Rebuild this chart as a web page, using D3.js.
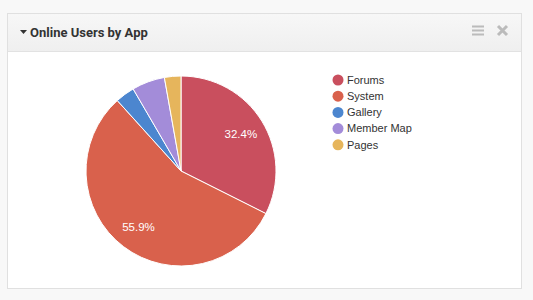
<!DOCTYPE html>
<html>
<head>
<meta charset="utf-8">
<script src="https://cdn.jsdelivr.net/npm/d3@7"></script>
<style>
  body { margin: 0; background: #f8f8f8; font-family: Roboto, "Open Sans", sans-serif; }
  svg { display: block; }
</style>
</head>
<body>
<svg id="chart"></svg>
<script>
const apps = ['Forums', 'System', 'Gallery', 'Member Map', 'Pages'];
const shares = [32.4, 55.9, 3.3, 5.6, 2.8];
const colors = ['#c94f5e', '#d9614c', '#4c86cf', '#a38cd9', '#e6b55c'];

const width = 533;
const height = 300;

const svg = d3.select('#chart')
    .attr('width', width)
    .attr('height', height);

// panel
svg.append('rect')
    .attr('x', 7.5).attr('y', 13.5)
    .attr('width', 514).attr('height', 275)
    .attr('fill', '#fff')
    .attr('stroke', '#e0e0e0');

const grad = svg.append('defs').append('linearGradient')
    .attr('id', 'hdr').attr('x1', 0).attr('y1', 0).attr('x2', 0).attr('y2', 1);
grad.append('stop').attr('offset', 0).attr('stop-color', '#f7f7f7');
grad.append('stop').attr('offset', 1).attr('stop-color', '#efefef');

svg.append('rect')
    .attr('x', 8).attr('y', 14)
    .attr('width', 513).attr('height', 37)
    .attr('fill', 'url(#hdr)');
svg.append('line')
    .attr('x1', 8).attr('x2', 521)
    .attr('y1', 51.5).attr('y2', 51.5)
    .attr('stroke', '#e2e2e2');

svg.append('path')
    .attr('d', 'M20,30 L27,30 L23.5,34 Z')
    .attr('fill', '#333');
svg.append('text')
    .attr('x', 30).attr('y', 36.5)
    .attr('font-size', 13)
    .attr('font-weight', 'bold')
    .attr('fill', '#333')
    .text('Online Users by App');

// header icons
[26.5, 30.5, 34.5].forEach(y => {
  svg.append('line')
      .attr('x1', 472).attr('x2', 484)
      .attr('y1', y).attr('y2', y)
      .attr('stroke', '#bbb').attr('stroke-width', 2);
});
svg.append('path')
    .attr('d', 'M498,26 L507,35 M507,26 L498,35')
    .attr('stroke', '#bbb').attr('stroke-width', 3);

// pie
const cx = 181, cy = 171, radius = 95;
const pie = d3.pie().sort(null).value(d => d);
const arcs = pie(shares);
const arc = d3.arc().innerRadius(0).outerRadius(radius);
const labelArc = d3.arc().innerRadius(radius * 0.74).outerRadius(radius * 0.74);

const color = d3.scaleOrdinal().domain(apps).range(colors);

const g = svg.append('g').attr('transform', `translate(${cx},${cy})`);
g.selectAll('path')
  .data(arcs)
  .join('path')
    .attr('d', arc)
    .attr('fill', (d, i) => color(apps[i]))
    .attr('stroke', '#fff')
    .attr('stroke-width', 1);

g.selectAll('text')
  .data(arcs.filter(d => d.data > 10))
  .join('text')
    .attr('transform', d => `translate(${labelArc.centroid(d)})`)
    .attr('text-anchor', 'middle')
    .attr('dy', '0.35em')
    .attr('font-size', 11.5)
    .attr('font-family', 'Arial, "Liberation Sans", sans-serif')
    .attr('fill', '#fff')
    .text(d => d.data.toFixed(1) + '%');

// legend
const legend = svg.append('g').attr('transform', 'translate(338,80)');
const item = legend.selectAll('g')
  .data(apps)
  .join('g')
    .attr('transform', (d, i) => `translate(0,${i * 16.2})`);
item.append('circle')
    .attr('r', 5.5)
    .attr('fill', d => color(d));
item.append('text')
    .attr('x', 9).attr('dy', '0.35em')
    .attr('font-size', 11)
    .attr('font-family', 'Arial, "Liberation Sans", sans-serif')
    .attr('fill', '#333')
    .text(d => d);
</script>
</body>
</html>
